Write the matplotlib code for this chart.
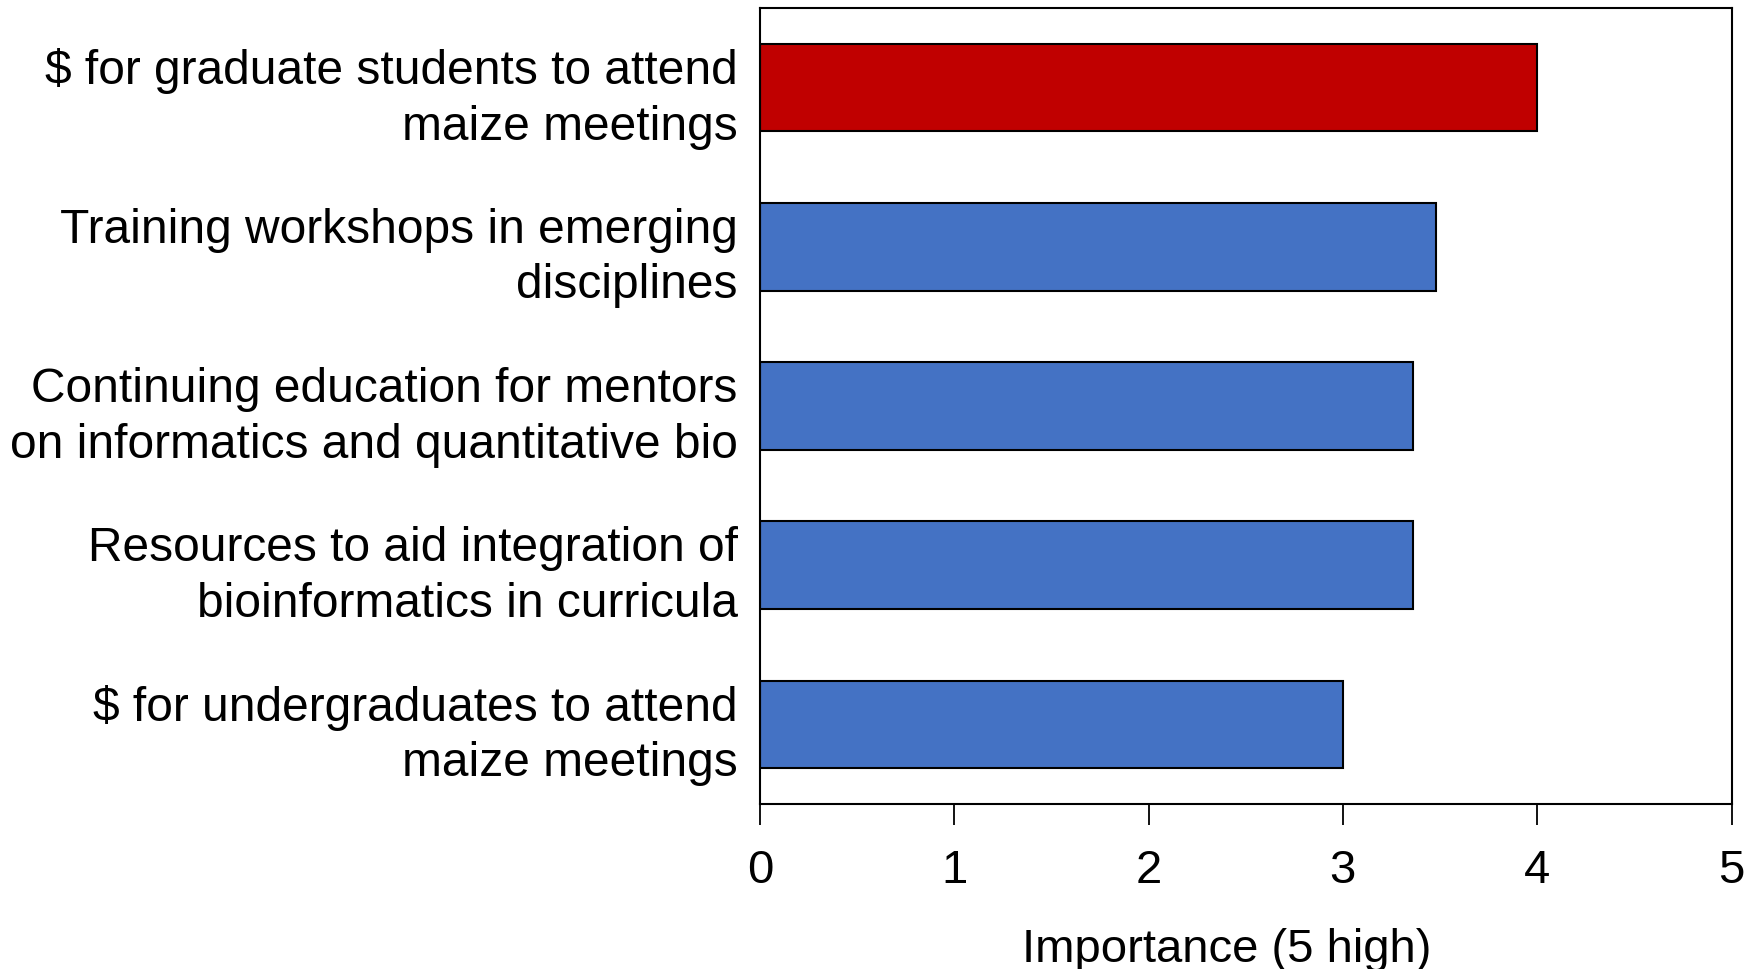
import matplotlib
matplotlib.use("Agg")
import matplotlib.pyplot as plt

plt.rcParams['font.family'] = ['Liberation Sans', 'DejaVu Sans']

# data (top to bottom)
labels = [
    "$ for graduate students to attend\nmaize meetings",
    "Training workshops in emerging\ndisciplines",
    "Continuing education for mentors\non informatics and quantitative bio",
    "Resources to aid integration of\nbioinformatics in curricula",
    "$ for undergraduates to attend\nmaize meetings",
]
importance = [4.0, 3.48, 3.36, 3.36, 3.0]
bar_colors = ["#C00000", "#4472C4", "#4472C4", "#4472C4", "#4472C4"]

fig = plt.figure(figsize=(17.46, 9.70), dpi=100)
ax = fig.add_axes([0.4353, 0.1701, 0.9917 - 0.4353, 0.9907 - 0.1701])

ypos = list(range(len(labels)))
ax.barh(ypos, importance, height=0.55, color=bar_colors,
        edgecolor="black", linewidth=1.5)

ax.set_xlim(0, 5)
ax.set_ylim(4.5, -0.5)
ax.set_xticks([0, 1, 2, 3, 4, 5])
ax.set_yticks(ypos)
# keep "$" literal, not mathtext
ax.set_yticklabels([l.replace("$", r"\$") for l in labels],
                   fontsize=34.5, linespacing=1.3)
ax.tick_params(axis="y", length=0, pad=16)
ax.tick_params(axis="x", direction="out", length=15, width=1.3,
               labelsize=34, pad=17)
ax.set_xlabel("Importance (5 high)", fontsize=34, labelpad=24)
ax.xaxis.set_label_coords(0.48, -0.155)

for s in ax.spines.values():
    s.set_linewidth(1.5)

fig.savefig("out.png", dpi=100)
